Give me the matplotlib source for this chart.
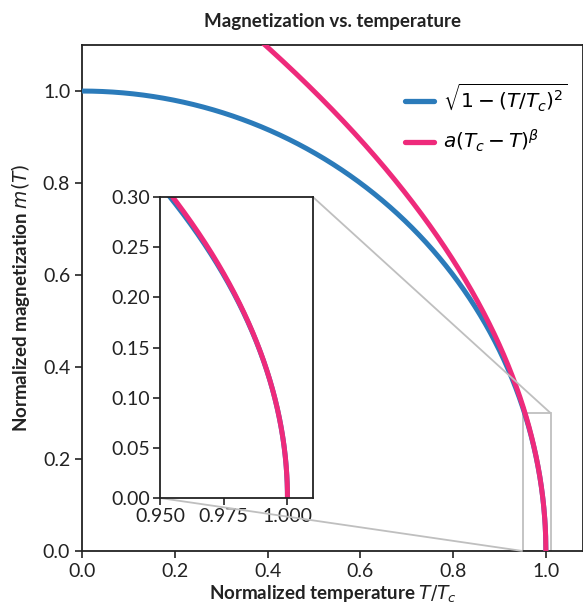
import numpy as np
import matplotlib
matplotlib.use("Agg")
import matplotlib.pyplot as plt
from mpl_toolkits.axes_grid1.inset_locator import mark_inset

plt.rcParams['font.family'] = ['Lato', 'DejaVu Sans']
plt.rcParams['mathtext.fontset'] = 'dejavusans'

# ---- data / parameters ----
Tc = 1.0
a_coef = 1.414      # amplitude of power law
beta_exp = 0.5      # critical exponent
t_main = np.linspace(0.0, 1.0, 2001)
t_inset = np.linspace(0.95, 1.0, 2001)

main_xticks = [0.0, 0.2, 0.4, 0.6, 0.8, 1.0]
main_yticks = [0.0, 0.2, 0.4, 0.6, 0.8, 1.0]
inset_xticks = [0.950, 0.975, 1.000]
inset_yticks = [0.00, 0.05, 0.10, 0.15, 0.20, 0.25, 0.30]

title = "Magnetization vs. temperature"
xlabel = r"Normalized temperature $T/T_c$"
ylabel = r"Normalized magnetization $m(T)$"
label_blue = r"$\sqrt{1-(T/T_c)^2}$"
label_pink = r"$a(T_c-T)^\beta$"

blue = '#2b7bba'
pink = '#ee2a7b'


def m_mf(t):
    return np.sqrt(np.clip(1 - (t / Tc) ** 2, 0, None))


def m_pow(t):
    return a_coef * np.clip(Tc - t, 0, None) ** beta_exp


fig = plt.figure(figsize=(5.83, 6.13), dpi=100)
ax = fig.add_axes([0.1407, 0.1011, 0.8593, 0.8254])

ax.plot(t_main, m_mf(t_main), color=blue, lw=3.6, label=label_blue,
        solid_capstyle='butt', zorder=3)
ax.plot(t_main, m_pow(t_main), color=pink, lw=3.6, label=label_pink,
        solid_capstyle='butt', zorder=4)
ax.set_xlim(0, 1.08)
ax.set_ylim(0, 1.1)
ax.set_xticks(main_xticks)
ax.set_xticklabels([f"{v:.1f}" for v in main_xticks])
ax.set_yticks(main_yticks)
ax.set_yticklabels([f"{v:.1f}" for v in main_yticks])
ax.tick_params(direction='out', length=5, width=1.2, labelsize=14, color='#222222',
               labelcolor='#222222')
for s in ax.spines.values():
    s.set_linewidth(1.3)
    s.set_color('#222222')
ax.set_title(title, fontsize=13.5, fontweight='bold', pad=13, color='#222222')
ax.set_xlabel(xlabel, fontsize=13.5, fontweight='bold', labelpad=3, color='#222222')
ax.set_ylabel(ylabel, fontsize=13.5, fontweight='bold', labelpad=8, color='#222222')

leg = ax.legend(loc='upper right', bbox_to_anchor=(1.005, 0.965), frameon=False,
                fontsize=14.5, handlelength=1.4, handletextpad=0.45, labelspacing=0.75)
for ln in leg.get_lines():
    ln.set_linewidth(3.8)
    ln.set_solid_capstyle('round')

axins = fig.add_axes([0.2744, 0.1876, 0.2624, 0.491])
axins.plot(t_inset, m_mf(t_inset), color=blue, lw=3.6, solid_capstyle='butt')
axins.plot(t_inset, m_pow(t_inset), color=pink, lw=3.6, solid_capstyle='butt')
axins.set_xlim(0.95, 1.01)
axins.set_ylim(0, 0.30)
axins.set_xticks(inset_xticks)
axins.set_xticklabels([f"{v:.3f}" for v in inset_xticks])
axins.set_yticks(inset_yticks)
axins.set_yticklabels([f"{v:.2f}" for v in inset_yticks])
axins.tick_params(direction='out', length=5, width=1.2, labelsize=14, color='#222222',
                  labelcolor='#222222', pad=2)
for s in axins.spines.values():
    s.set_linewidth(1.3)
    s.set_color('#222222')

mark_inset(ax, axins, loc1=1, loc2=3, fc='none', ec='#bfbfbf', lw=1.3, zorder=2)

fig.savefig('out.png', dpi=100)
